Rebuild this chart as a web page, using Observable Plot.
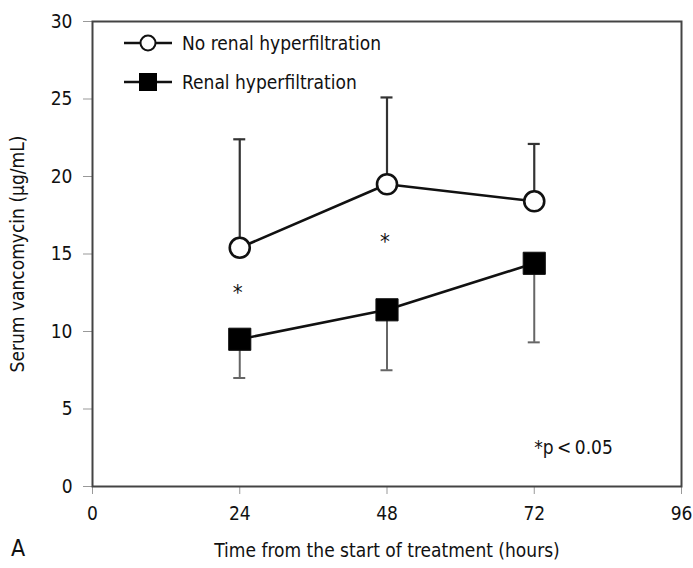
<!DOCTYPE html>
<html>
<head>
<meta charset="utf-8">
<script src="https://cdn.jsdelivr.net/npm/d3@7"></script>
<script src="https://cdn.jsdelivr.net/npm/@observablehq/plot@0.6"></script>
<style>
  html, body { margin: 0; padding: 0; background: #fff; }
  #wrap { position: relative; width: 693px; height: 568px; font-family: "Liberation Sans Narrow", "DejaVu Sans Condensed", "Roboto Condensed", sans-serif; font-stretch: condensed; }
  #legend { position: absolute; left: 122px; top: 30px; font-size: 19px; color: #111; }
  .row { display: flex; align-items: center; height: 26px; margin-bottom: 13px; }
  .row svg { margin-right: 8px; }
  #panel { position: absolute; left: 11px; top: 535px; font-size: 23px; color: #111; }
</style>
</head>
<body>
<div id="wrap">
  <div id="chart"></div>
  <div id="legend"></div>
  <div id="panel">A</div>
</div>
<script>
// Data
const hours = [24, 48, 72];
const noRenalMean = [15.4, 19.5, 18.4];
const noRenalUpper = [22.4, 25.1, 22.1];
const renalMean = [9.5, 11.4, 14.4];
const renalLower = [7.0, 7.5, 9.3];
const starHours = [24, 48];
const starValues = [12.8, 16.1];
const xTicks = [0, 24, 48, 72, 96];
const yTicks = [0, 5, 10, 15, 20, 25, 30];
const seriesNames = ["No renal hyperfiltration", "Renal hyperfiltration"];

const noRenal = hours.map((t, i) => ({t, y: noRenalMean[i], e: noRenalUpper[i]}));
const renal = hours.map((t, i) => ({t, y: renalMean[i], e: renalLower[i]}));
const stars = starHours.map((t, i) => ({t, y: starValues[i]}));

const font = '"Liberation Sans Narrow", "DejaVu Sans Condensed", "Roboto Condensed", sans-serif';

const chart = Plot.plot({
  width: 693,
  height: 568,
  marginTop: 21,
  marginRight: 12,
  marginBottom: 82,
  marginLeft: 92,
  style: {fontFamily: font, fontSize: "18px", color: "#111", background: "#fff"},
  x: {domain: [0, 96]},
  y: {domain: [0, 30]},
  marks: [
    Plot.axisX({ticks: xTicks, tickSize: 8, tickPadding: 12, stroke: "#999", fontSize: 19,
      label: "Time from the start of treatment (hours)", labelAnchor: "center", labelArrow: "none", labelOffset: 70}),
    Plot.axisY({ticks: yTicks, tickSize: 9, tickPadding: 11, stroke: "#999", fontSize: 19,
      label: "Serum vancomycin (μg/mL)", labelAnchor: "center", labelArrow: "none", labelOffset: 82}),
    // error bars
    Plot.ruleX(noRenal, {x: "t", y1: "y", y2: "e", stroke: "#333", strokeWidth: 2.2}),
    Plot.ruleY(noRenal, {x1: "t", x2: "t", y: "e", stroke: "#333", strokeWidth: 2.2, insetLeft: -6, insetRight: -6}),
    Plot.ruleX(renal, {x: "t", y1: "y", y2: "e", stroke: "#666", strokeWidth: 2}),
    Plot.ruleY(renal, {x1: "t", x2: "t", y: "e", stroke: "#666", strokeWidth: 2, insetLeft: -6, insetRight: -6}),
    // lines
    Plot.line(noRenal, {x: "t", y: "y", stroke: "#111", strokeWidth: 2.6}),
    Plot.line(renal, {x: "t", y: "y", stroke: "#111", strokeWidth: 2.6}),
    // markers
    Plot.dot(noRenal, {x: "t", y: "y", r: 10, fill: "#fff", stroke: "#111", strokeWidth: 2.6}),
    Plot.dot(renal, {x: "t", y: "y", symbol: "square", r: 12.5, fill: "#000", stroke: "#111", strokeWidth: 1}),
    // annotations
    Plot.text(stars, {x: "t", y: "y", text: () => "*", fontSize: 22, dx: -2, dy: 5, fill: "#111"}),
    Plot.text([{t: 72, y: 2.5}], {x: "t", y: "y", text: () => "*p\u2009<\u20090.05", textAnchor: "start", fontSize: 19, fill: "#111"}),
    Plot.frame({stroke: "#444", strokeWidth: 2})
  ]
});
document.getElementById("chart").appendChild(chart);

// Legend
const legend = document.getElementById("legend");
seriesNames.forEach((name, i) => {
  const row = document.createElement("div");
  row.className = "row";
  const marker = i === 0
    ? '<circle cx="26" cy="13" r="7.5" fill="#fff" stroke="#111" stroke-width="2"/>'
    : '<rect x="17" y="4" width="18" height="18" fill="#000"/>';
  row.innerHTML = `<svg width="52" height="26"><line x1="2" x2="50" y1="13" y2="13" stroke="#111" stroke-width="2.6"/>${marker}</svg><span>${name}</span>`;
  legend.appendChild(row);
});
</script>
</body>
</html>
